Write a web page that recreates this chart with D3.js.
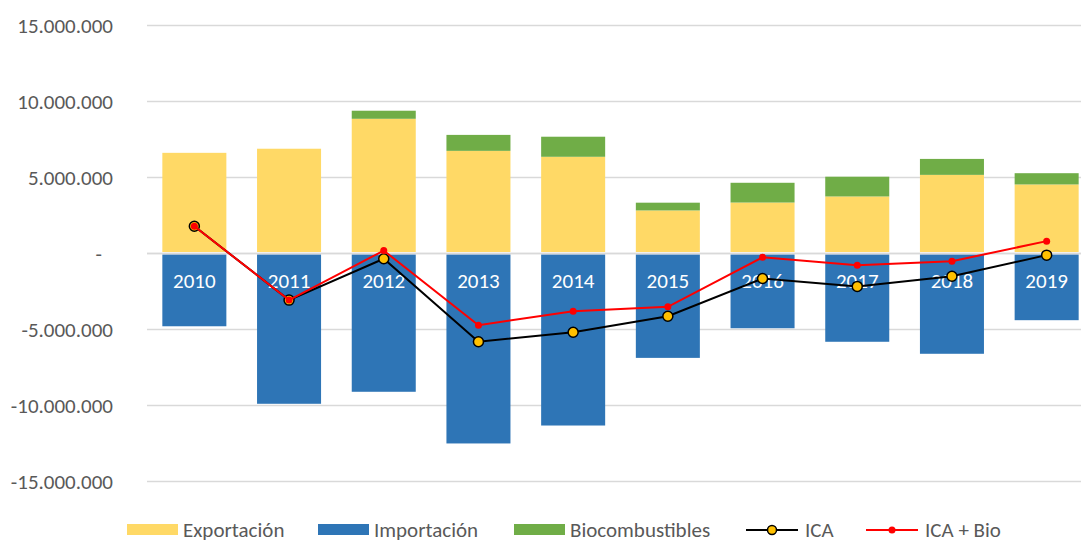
<!DOCTYPE html>
<html>
<head>
<meta charset="utf-8">
<script src="https://cdn.jsdelivr.net/npm/d3@7"></script>
<style>
  html, body { margin: 0; padding: 0; background: #fff; }
  svg { display: block; font-family: Carlito, Lato, "Open Sans", sans-serif; }
</style>
</head>
<body>
<svg id="chart" width="1081" height="542"></svg>
<script>
// Trade balance by year (values in units)
const years = ["2010", "2011", "2012", "2013", "2014", "2015", "2016", "2017", "2018", "2019"];
const exportacion = [6590000, 6860000, 8830000, 6720000, 6330000, 2800000, 3320000, 3720000, 5140000, 4510000];
const importacion = [-4820000, -9920000, -9130000, -12530000, -11350000, -6900000, -4950000, -5840000, -6630000, -4420000];
const biocombustibles = [0, 0, 530000, 1050000, 1320000, 510000, 1300000, 1300000, 1050000, 740000];
const ica = [1760000, -3100000, -380000, -5840000, -5210000, -4160000, -1680000, -2200000, -1530000, -140000];
const icaBio = [1760000, -3100000, 160000, -4750000, -3830000, -3540000, -280000, -800000, -540000, 780000];
const yTicks = [15000000, 10000000, 5000000, 0, -5000000, -10000000, -15000000];
const yTickLabels = ["15.000.000", "10.000.000", "5.000.000", "-", "-5.000.000", "-10.000.000", "-15.000.000"];

const colors = {
  exp: "#FFD966",
  imp: "#2E75B6",
  bio: "#70AD47",
  ica: "#000000",
  icaMarker: "#FFC000",
  icaBio: "#FF0000",
  grid: "#D9D9D9",
  text: "#595959"
};

const svg = d3.select("#chart");

const x = d3.scaleBand()
  .domain(years)
  .range([147, 1094])
  .paddingInner(0.324)
  .paddingOuter(0.162);

const y = d3.scaleLinear()
  .domain([-15000000, 15000000])
  .range([481, 25]);

// Gridlines
svg.append("g")
  .selectAll("line")
  .data(yTicks)
  .join("line")
  .attr("x1", 147).attr("x2", 1081)
  .attr("y1", d => Math.round(y(d)) + 0.5)
  .attr("y2", d => Math.round(y(d)) + 0.5)
  .attr("stroke", colors.grid)
  .attr("stroke-width", 1.5);

// Y axis labels
svg.append("g")
  .selectAll("text")
  .data(yTicks)
  .join("text")
  .attr("x", d => d === 0 ? 102 : 113)
  .attr("y", d => y(d))
  .attr("dy", "0.36em")
  .attr("text-anchor", "end")
  .attr("fill", colors.text)
  .attr("font-size", 21)
  .text((d, i) => yTickLabels[i]);

// Stacked bars
const bars = svg.append("g");
years.forEach((yr, i) => {
  const bx = x(yr), bw = x.bandwidth();
  bars.append("rect")
    .attr("x", bx).attr("width", bw)
    .attr("y", y(exportacion[i]))
    .attr("height", y(0) - y(exportacion[i]) - 1)
    .attr("fill", colors.exp);
  if (biocombustibles[i] > 0) {
    bars.append("rect")
      .attr("x", bx).attr("width", bw)
      .attr("y", y(exportacion[i] + biocombustibles[i]))
      .attr("height", y(exportacion[i]) - y(exportacion[i] + biocombustibles[i]))
      .attr("fill", colors.bio);
  }
  bars.append("rect")
    .attr("x", bx).attr("width", bw)
    .attr("y", y(0) + 1.5)
    .attr("height", y(importacion[i]) - y(0) - 1.5)
    .attr("fill", colors.imp);
});

// Zero line
svg.append("line")
  .attr("x1", 147).attr("x2", 1081)
  .attr("y1", Math.round(y(0)) + 0.5).attr("y2", Math.round(y(0)) + 0.5)
  .attr("stroke", colors.grid)
  .attr("stroke-width", 1.5);

// Category labels inside import bars
svg.append("g")
  .selectAll("text")
  .data(years)
  .join("text")
  .attr("x", d => x(d) + x.bandwidth() / 2)
  .attr("y", 288)
  .attr("text-anchor", "middle")
  .attr("fill", "#FFFFFF")
  .attr("font-size", 21)
  .text(d => d);

const cx = i => x(years[i]) + x.bandwidth() / 2;
const line = d3.line().x((d, i) => cx(i)).y(d => y(d));

// ICA line
svg.append("path")
  .datum(ica)
  .attr("d", line)
  .attr("fill", "none")
  .attr("stroke", colors.ica)
  .attr("stroke-width", 2);
svg.append("g")
  .selectAll("circle")
  .data(ica)
  .join("circle")
  .attr("cx", (d, i) => cx(i))
  .attr("cy", d => y(d))
  .attr("r", 5)
  .attr("fill", colors.icaMarker)
  .attr("stroke", "#000")
  .attr("stroke-width", 1.5);

// ICA + Bio line
svg.append("path")
  .datum(icaBio)
  .attr("d", line)
  .attr("fill", "none")
  .attr("stroke", colors.icaBio)
  .attr("stroke-width", 2);
svg.append("g")
  .selectAll("circle")
  .data(icaBio)
  .join("circle")
  .attr("cx", (d, i) => cx(i))
  .attr("cy", d => y(d))
  .attr("r", 3.5)
  .attr("fill", colors.icaBio);

// Legend
const legend = svg.append("g").attr("font-size", 21).attr("fill", colors.text);
const swatches = [
  { label: "Exportación", color: colors.exp, x: 127 },
  { label: "Importación", color: colors.imp, x: 318 },
  { label: "Biocombustibles", color: colors.bio, x: 514 }
];
swatches.forEach(s => {
  legend.append("rect")
    .attr("x", s.x).attr("y", 524)
    .attr("width", 51).attr("height", 11)
    .attr("fill", s.color);
  legend.append("text")
    .attr("x", s.x + 56).attr("y", 537)
    .text(s.label);
});
const lineItems = [
  { label: "ICA", stroke: colors.ica, x: 746, marker: { r: 4.5, fill: colors.icaMarker, stroke: "#000" } },
  { label: "ICA + Bio", stroke: colors.icaBio, x: 866, marker: { r: 3.5, fill: colors.icaBio, stroke: "none" } }
];
lineItems.forEach(s => {
  legend.append("line")
    .attr("x1", s.x).attr("x2", s.x + 52)
    .attr("y1", 530).attr("y2", 530)
    .attr("stroke", s.stroke).attr("stroke-width", 2);
  legend.append("circle")
    .attr("cx", s.x + 26).attr("cy", 530)
    .attr("r", s.marker.r)
    .attr("fill", s.marker.fill)
    .attr("stroke", s.marker.stroke)
    .attr("stroke-width", 1.5);
  legend.append("text")
    .attr("x", s.x + 59).attr("y", 537)
    .text(s.label);
});
</script>
</body>
</html>
